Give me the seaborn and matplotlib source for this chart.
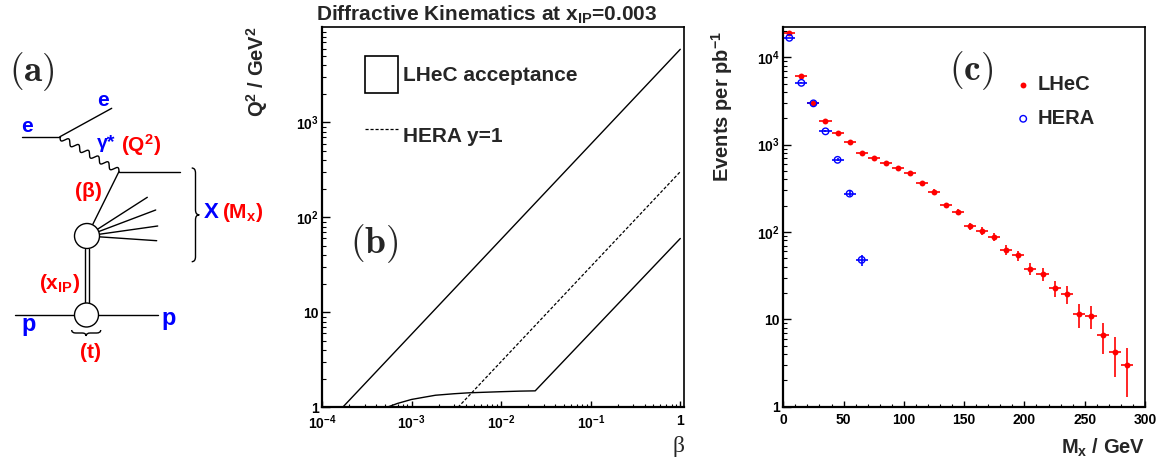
import numpy as np
import matplotlib
matplotlib.use('Agg')
import matplotlib.pyplot as plt
import seaborn as sns
from matplotlib.patches import Circle, Patch, PathPatch
from matplotlib.path import Path
from matplotlib.lines import Line2D
from matplotlib.ticker import FixedLocator, FixedFormatter, LogLocator, MultipleLocator, NullFormatter

# --- panel (b): kinematic boundaries ---
upper_beta = [1.7e-4, 1.0]
upper_q2 = [1.0, 5900.0]
lower_beta = [5.3e-4, 7.0e-4, 1.0e-3, 1.4e-3, 1.85e-3, 3.0e-3, 4.3e-3, 6.5e-3, 1.0e-2, 1.6e-2, 2.4e-2, 1.0]
lower_q2 = [1.0, 1.1, 1.21, 1.28, 1.34, 1.39, 1.42, 1.44, 1.46, 1.48, 1.49, 60.0]
hera_beta = [3.3e-3, 1.0]
hera_q2 = [1.0, 303.0]

b_xticks = [1e-4, 1e-3, 1e-2, 1e-1, 1.0]
b_xticklabels = [r'$10^{-4}$', r'$10^{-3}$', r'$10^{-2}$', r'$10^{-1}$', '1']
b_yticks = [1, 10, 100, 1000]
b_yticklabels = ['1', '10', r'$10^{2}$', r'$10^{3}$']

# --- panel (c): events per pb^-1 vs M_x ---
mx_lhec = [5, 15, 25, 35, 45, 55, 65, 75, 85, 95, 105, 115, 125, 135, 145,
           155, 165, 175, 185, 195, 205, 215, 225, 235, 245, 255, 265, 275, 285]
ev_lhec = [18800, 6050, 2970, 1850, 1370, 1070, 810, 710, 620, 540, 473, 360, 290, 203, 170,
           117, 103, 88, 63, 54, 38, 33, 23, 19.5, 11.4, 11.0, 6.6, 4.2, 3.0]
err_lhec = [137, 78, 55, 43, 37, 33, 28, 27, 25, 23, 22, 19, 17, 14, 13,
            11, 10, 9.4, 8.0, 7.3, 6.2, 5.7, 4.8, 4.4, 3.4, 3.3, 2.6, 2.0, 1.7]
mx_hera = [5, 15, 25, 35, 45, 55, 65]
ev_hera = [16700, 5100, 2970, 1420, 670, 275, 48]
err_hera = [129, 71, 54, 38, 26, 17, 6.9]
bin_half = 5

c_xticks = [0, 50, 100, 150, 200, 250, 300]
c_yticks = [1, 10, 100, 1000, 10000]
c_yticklabels = ['1', '10', r'$10^{2}$', r'$10^{3}$', r'$10^{4}$']

sns.set_theme(style='ticks')
plt.rcParams['font.family'] = ['Liberation Sans', 'DejaVu Sans']
plt.rcParams['font.weight'] = 'bold'
plt.rcParams['axes.labelweight'] = 'bold'
plt.rcParams['mathtext.fontset'] = 'custom'
plt.rcParams['mathtext.rm'] = 'Liberation Sans:bold'
plt.rcParams['mathtext.bf'] = 'Liberation Sans:bold'
plt.rcParams['mathtext.it'] = 'Liberation Sans:bold'
plt.rcParams['mathtext.sf'] = 'Liberation Sans:bold'
plt.rcParams['axes.linewidth'] = 1.2
plt.rcParams['axes.edgecolor'] = 'black'

fig = plt.figure(figsize=(11.69, 4.59), dpi=100)
W, H = 1169, 459


def brace(ax, p0, p1, nvec, a, s):
    p0 = np.array(p0, float)
    p1 = np.array(p1, float)
    t = p1 - p0
    L = np.hypot(*t)
    t = t / L
    n = np.array(nvec, float)
    local = [(0, 0), (0, a), (s, a), (L / 2 - s, a), (L / 2, a), (L / 2, 2 * a),
             (L / 2, a), (L / 2 + s, a), (L - s, a), (L, a), (L, 0)]
    codes = [Path.MOVETO, Path.CURVE3, Path.CURVE3, Path.LINETO, Path.CURVE3, Path.CURVE3,
             Path.CURVE3, Path.CURVE3, Path.LINETO, Path.CURVE3, Path.CURVE3]
    verts = [p0 + u * t + v * n for u, v in local]
    ax.add_patch(PathPatch(Path(verts, codes), fc='none', ec='black', lw=1.0))


# ---------------- (a) diagram ----------------
axa = fig.add_axes([0, 0, 0.24, 1])
axa.set_xlim(0, 0.24 * W)
axa.set_ylim(H, 0)
axa.axis('off')

lk = dict(color='black', lw=1.0)
axa.plot([21.7, 60], [136.7, 136.7], **lk)
axa.plot([60, 111.7], [136.7, 108.3], **lk)
# wavy photon
A, B = np.array([60.0, 137.0]), np.array([119.0, 171.5])
tt = np.linspace(0, 1, 400)
d = B - A
nrm = np.array([-d[1], d[0]]) / np.hypot(*d)
wav = A + np.outer(tt, d) + np.outer(2.8 * np.sin(2 * np.pi * 6 * tt), nrm)
axa.plot(wav[:, 0], wav[:, 1], **lk)
axa.plot([119, 180], [171.5, 171.5], **lk)

c1, r1 = np.array([87.0, 236.0]), 12.5
c2, r2 = np.array([86.5, 315.0]), 12.0


def to_edge(c, r, p):
    v = np.array(p) - c
    return c + r * v / np.hypot(*v)


e = to_edge(c1, r1, (119, 171.5))
axa.plot([119, e[0]], [171.5, e[1]], **lk)
for end in [(147.3, 197.3), (155.7, 210.0), (157.7, 226.0), (156.7, 240.7)]:
    s0 = to_edge(c1, r1, end)
    axa.plot([s0[0], end[0]], [s0[1], end[1]], **lk)
axa.plot([85, 85], [c1[1] + r1, c2[1] - r2], **lk)
axa.plot([89, 89], [c1[1] + r1, c2[1] - r2], **lk)
axa.plot([15, 158.3], [315, 315], **lk)
axa.add_patch(Circle(c1, r1, fc='white', ec='black', lw=1.0, zorder=3))
axa.add_patch(Circle(c2, r2, fc='white', ec='black', lw=1.0, zorder=3))
brace(axa, (191.7, 168), (191.7, 261.7), (1, 0), 3.8, 5)
brace(axa, (71.7, 330), (100.7, 330), (0, 1), 3.0, 4)

tk = dict(ha='center', va='center', fontweight='bold')
axa.text(31.5, 72, r'$\mathbf{(a)}$', ha='center', va='center', fontsize=27, math_fontfamily='cm')
axa.text(26.7, 126.7, 'e', color='blue', fontsize=15, **tk)
axa.text(103.3, 100, 'e', color='blue', fontsize=15, **tk)
axa.text(106, 144, 'γ*', color='blue', fontsize=14, ha='center', va='center')
axa.text(140.8, 144.7, r'(Q$^{2}$)', color='red', fontsize=15, **tk)
axa.text(88.3, 191.7, '(β)', color='red', fontsize=15, **tk)
axa.text(211.7, 213, 'X', color='blue', fontsize=16, **tk)
axa.text(243, 213, r'(M$_{x}$)', color='red', fontsize=15, **tk)
axa.text(60, 283.3, r'(x$_{IP}$)', color='red', fontsize=15, **tk)
axa.text(28.3, 324, 'p', color='blue', fontsize=17, **tk)
axa.text(169, 318, 'p', color='blue', fontsize=17, **tk)
axa.text(90.8, 352, '(t)', color='red', fontsize=15, **tk)

# ---------------- (b) kinematics ----------------
axb = fig.add_axes([322 / W, 1 - 407.3 / H, 362 / W, 380.6 / H])
axb.set_xscale('log')
axb.set_yscale('log')
sns.lineplot(x=upper_beta, y=upper_q2, ax=axb, color='black', linewidth=1.0, estimator=None, sort=False)
sns.lineplot(x=lower_beta, y=lower_q2, ax=axb, color='black', linewidth=1.0, estimator=None, sort=False)
sns.lineplot(x=hera_beta, y=hera_q2, ax=axb, color='black', linewidth=0.9, estimator=None, sort=False,
             linestyle=(0, (2.5, 1.5)))
axb.set_xlim(1e-4, 1.1)
axb.set_ylim(1, 1.02e4)
axb.xaxis.set_major_locator(FixedLocator(b_xticks))
axb.xaxis.set_major_formatter(FixedFormatter(b_xticklabels))
axb.yaxis.set_major_locator(FixedLocator(b_yticks))
axb.yaxis.set_major_formatter(FixedFormatter(b_yticklabels))
for ax_ in (axb.xaxis, axb.yaxis):
    ax_.set_minor_locator(LogLocator(base=10, subs=np.arange(2, 10), numticks=20))
    ax_.set_minor_formatter(NullFormatter())

leg_b = [Patch(facecolor='none', edgecolor='black', linewidth=1.2),
         Line2D([], [], color='black', lw=0.9, linestyle=(0, (2.5, 1.5)))]
axb.legend(leg_b, ['LHeC acceptance', 'HERA y=1'], loc='upper left', bbox_to_anchor=(0.119, 0.924),
           frameon=False, prop={'weight': 'bold', 'size': 15}, handlelength=1.59, handleheight=2.4,
           handletextpad=0.25, labelspacing=1.12, borderpad=0, borderaxespad=0)
axb.text(0.145, 0.43, r'$\mathbf{(b)}$', transform=axb.transAxes, ha='center', va='center',
         fontsize=27, math_fontfamily='cm')
axb.set_ylabel(r'Q$^{2}$ / GeV$^{2}$', fontsize=14.5, loc='top')
axb.yaxis.set_label_coords(-0.145, 1.0)
axb.set_xlabel('β', fontsize=17, fontweight='normal', family='Liberation Serif', loc='right')
axb.xaxis.set_label_coords(1.0, -0.075)
fig.text(487 / W, 1 - 15 / H, r'Diffractive Kinematics at x$_{IP}$=0.003',
         ha='center', va='center', fontsize=15, fontweight='bold')

# ---------------- (c) M_x spectrum ----------------
axc = fig.add_axes([783.3 / W, 1 - 406.7 / H, 361.7 / W, 380 / H])
axc.set_yscale('log')
axc.errorbar(mx_lhec, ev_lhec, yerr=err_lhec, xerr=bin_half, fmt='none', ecolor='red',
             elinewidth=1.2, capsize=0, zorder=2)
axc.errorbar(mx_hera, ev_hera, yerr=err_hera, xerr=bin_half, fmt='none', ecolor='blue',
             elinewidth=1.2, capsize=0, zorder=2)
sns.scatterplot(x=mx_lhec, y=ev_lhec, ax=axc, color='red', s=18, linewidth=0, label='LHeC', zorder=3)
sns.scatterplot(x=mx_hera, y=ev_hera, ax=axc, color='blue', facecolors='none', edgecolor='blue',
                s=22, linewidth=1.0, label='HERA', zorder=4)
axc.set_xlim(0, 300)
axc.set_ylim(1, 2.24e4)
axc.xaxis.set_major_locator(FixedLocator(c_xticks))
axc.xaxis.set_minor_locator(MultipleLocator(10))
axc.yaxis.set_major_locator(FixedLocator(c_yticks))
axc.yaxis.set_major_formatter(FixedFormatter(c_yticklabels))
axc.yaxis.set_minor_locator(LogLocator(base=10, subs=np.arange(2, 10), numticks=20))
axc.yaxis.set_minor_formatter(NullFormatter())
axc.legend(loc='upper left', bbox_to_anchor=(0.641, 0.873), frameon=False,
           prop={'weight': 'bold', 'size': 14.5}, handlelength=0.8, handletextpad=0.3,
           labelspacing=0.75, borderpad=0, borderaxespad=0)
axc.text(0.52, 0.885, r'$\mathbf{(c)}$', transform=axc.transAxes, ha='center', va='center',
         fontsize=27, math_fontfamily='cm')
axc.set_ylabel(r'Events per pb$^{-1}$', fontsize=14.5, loc='top')
axc.yaxis.set_label_coords(-0.134, 0.99)
axc.set_xlabel(r'M$_{x}$ / GeV', fontsize=14.5, loc='right')
axc.xaxis.set_label_coords(1.0, -0.08)

for ax in (axb, axc):
    ax.tick_params(which='both', direction='in', top=False, right=False, labelsize=10, colors='black')
    ax.tick_params(axis='y', which='major', length=5.5, width=1.0, pad=2.5)
    ax.tick_params(axis='y', which='minor', length=3, width=0.8)
    ax.tick_params(axis='x', which='major', length=4, width=1.0, pad=4.5)
    ax.tick_params(axis='x', which='minor', length=2.2, width=0.8)
    for lab in ax.get_xticklabels() + ax.get_yticklabels():
        lab.set_fontweight('bold')
    for sp in ax.spines.values():
        sp.set_linewidth(1.2)
        sp.set_color('black')
    ax.spines['left'].set_linewidth(1.6)
    ax.spines['bottom'].set_linewidth(1.6)

fig.savefig('out.png', dpi=100)
